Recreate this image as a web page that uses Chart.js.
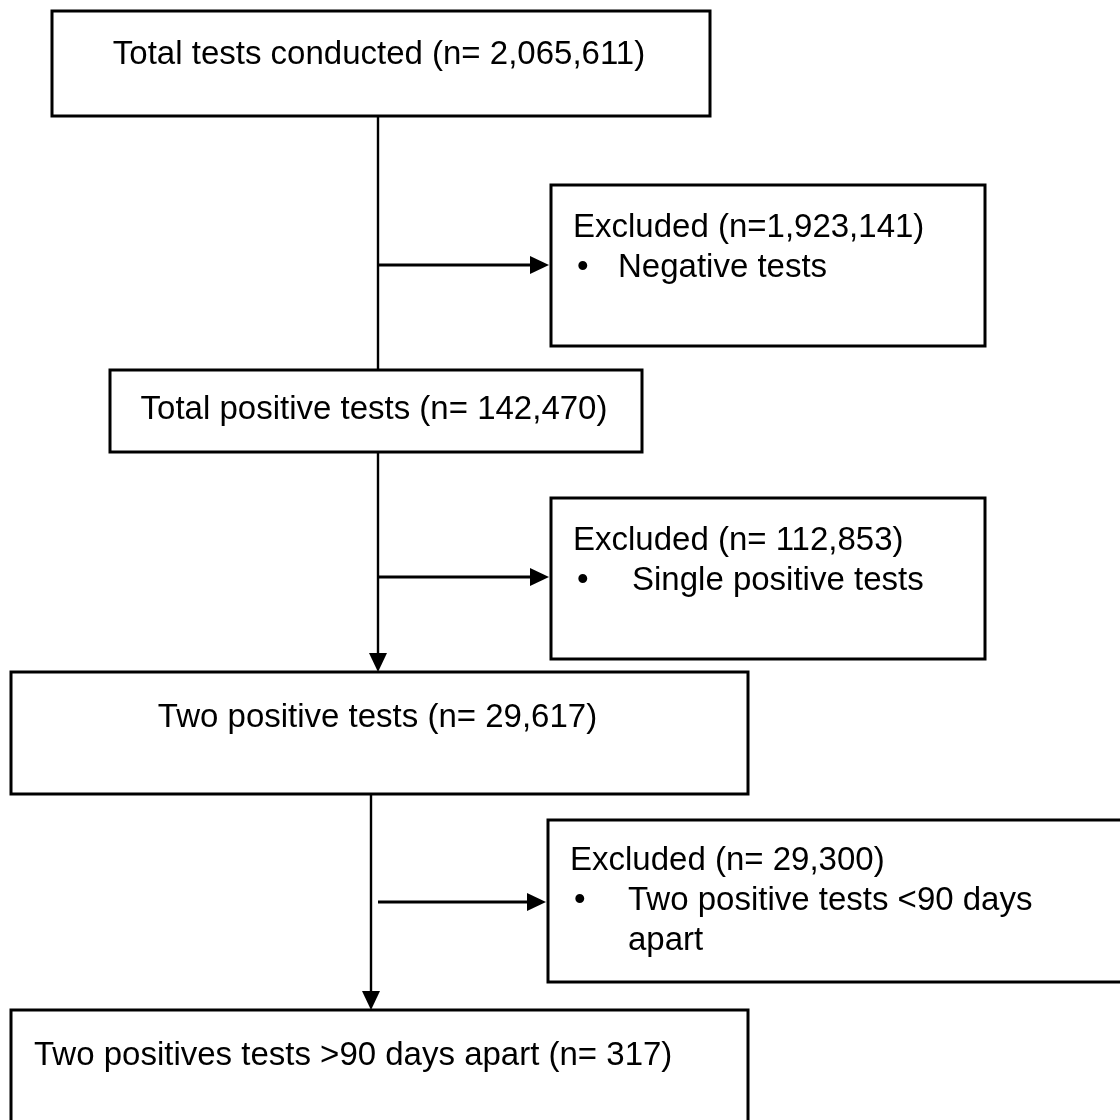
<!DOCTYPE html>
<html>
<head>
<meta charset="utf-8">
<script src="https://cdn.jsdelivr.net/npm/chart.js@4.4.1/dist/chart.umd.min.js"></script>
<style>
  html, body { margin: 0; padding: 0; background: #fff; }
  #wrap { width: 1120px; height: 1120px; }
</style>
</head>
<body>
<div id="wrap"><canvas id="flow" width="1120" height="1120"></canvas></div>
<script>
// flow steps and counts
const mainSteps = ['Total tests conducted', 'Total positive tests', 'Two positive tests', 'Two positives tests >90 days apart'];
const mainCounts = [2065611, 142470, 29617, 317];
const excludedCounts = [1923141, 112853, 29300];
const excludedPrefix = ['n=', 'n= ', 'n= '];
const excludedReasons = [['Negative tests'], ['Single positive tests'], ['Two positive tests <90 days', 'apart']];

// layout in page units (x right, y down), kept apart from the data
const mainBoxes = [
    { x0: 52, x1: 710, y0: 11, y1: 116, textY: 55, align: 'center' },
    { x0: 110, x1: 642, y0: 370, y1: 452, textY: 410, align: 'center' },
    { x0: 11, x1: 748, y0: 672, y1: 794, textY: 718, align: 'center' },
    { x0: 11, x1: 748, y0: 1010, y1: 1130, textY: 1056, align: 'left', textX: 34 }
];
const sideBoxes = [
    { x0: 551, x1: 985, y0: 185, y1: 346, textY: 228, bulletX: 577, reasonX: 618, arrowY: 265, arrowFrom: 378 },
    { x0: 551, x1: 985, y0: 498, y1: 659, textY: 541, bulletX: 577, reasonX: 632, arrowY: 577, arrowFrom: 378 },
    { x0: 548, x1: 1130, y0: 820, y1: 982, textY: 861, bulletX: 574, reasonX: 628, arrowY: 902, arrowFrom: 378 }
];
const trunks = [
    { x: 378, from: 116, to: 370, head: false },
    { x: 378, from: 452, to: 672, head: true },
    { x: 371, from: 794, to: 1010, head: true }
];

const FONT = '33px "Liberation Sans", Arial, sans-serif';
const LINE_GAP = 40;

function fmt(n) { return n.toLocaleString('en-US'); }

const flowPlugin = {
    id: 'flow',
    beforeDraw(chart) {
        const c = chart.ctx;
        c.save();
        c.fillStyle = '#ffffff';
        c.fillRect(0, 0, chart.width, chart.height);
        c.restore();
    },
    afterDraw(chart) {
        const c = chart.ctx;
        const sx = v => chart.scales.x.getPixelForValue(v);
        const sy = v => chart.scales.y.getPixelForValue(v);

        function box(b) {
            c.lineWidth = 3;
            c.strokeStyle = '#000';
            c.strokeRect(sx(b.x0), sy(b.y0), sx(b.x1) - sx(b.x0), sy(b.y1) - sy(b.y0));
        }
        function headDown(x, y) {
            c.beginPath();
            c.moveTo(sx(x), sy(y));
            c.lineTo(sx(x) - 9, sy(y) - 19);
            c.lineTo(sx(x) + 9, sy(y) - 19);
            c.closePath();
            c.fill();
        }
        function headRight(x, y) {
            c.beginPath();
            c.moveTo(sx(x), sy(y));
            c.lineTo(sx(x) - 19, sy(y) - 9);
            c.lineTo(sx(x) - 19, sy(y) + 9);
            c.closePath();
            c.fill();
        }

        c.save();
        c.fillStyle = '#000';
        c.strokeStyle = '#000';

        // vertical connectors
        trunks.forEach(t => {
            c.lineWidth = 2.4;
            c.beginPath();
            c.moveTo(sx(t.x), sy(t.from));
            c.lineTo(sx(t.x), sy(t.head ? t.to - 16 : t.to));
            c.stroke();
            if (t.head) headDown(t.x, t.to);
        });

        // main boxes
        c.font = FONT;
        c.textBaseline = 'middle';
        mainBoxes.forEach((b, i) => {
            box(b);
            const label = mainSteps[i] + ' (n= ' + fmt(mainCounts[i]) + ')';
            if (b.align === 'center') {
                c.textAlign = 'center';
                c.fillText(label, sx((b.x0 + b.x1) / 2 - 2), sy(b.textY));
            } else {
                c.textAlign = 'left';
                c.fillText(label, sx(b.textX), sy(b.textY));
            }
        });

        // excluded boxes with side arrows
        sideBoxes.forEach((b, i) => {
            c.lineWidth = 3;
            c.beginPath();
            c.moveTo(sx(b.arrowFrom), sy(b.arrowY));
            c.lineTo(sx(b.x0 - 16), sy(b.arrowY));
            c.stroke();
            headRight(b.x0 - 2, b.arrowY);

            box(b);
            c.textAlign = 'left';
            c.fillText('Excluded (' + excludedPrefix[i] + fmt(excludedCounts[i]) + ')', sx(b.x0 + 22), sy(b.textY));
            c.fillText('\u2022', sx(b.bulletX), sy(b.textY + LINE_GAP));
            excludedReasons[i].forEach((r, k) => {
                c.fillText(r, sx(b.reasonX), sy(b.textY + LINE_GAP * (k + 1)));
            });
        });
        c.restore();
    }
};

new Chart(document.getElementById('flow'), {
    type: 'scatter',
    data: { datasets: [{ data: [], pointRadius: 0 }] },
    options: {
        responsive: false,
        animation: false,
        layout: { padding: 0 },
        plugins: { legend: { display: false }, tooltip: { enabled: false } },
        scales: {
            x: { type: 'linear', min: 0, max: 1120, display: false },
            y: { type: 'linear', min: 0, max: 1120, reverse: true, display: false }
        }
    },
    plugins: [flowPlugin]
});
</script>
</body>
</html>
